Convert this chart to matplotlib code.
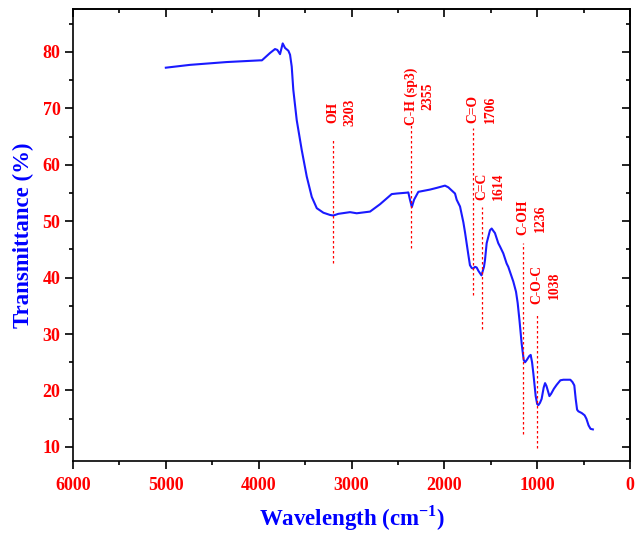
import numpy as np
import matplotlib
matplotlib.use("Agg")
import matplotlib.pyplot as plt
from matplotlib.ticker import MultipleLocator

# FTIR spectrum (wavenumber in cm-1, transmittance in %)
wavenumber = [5000, 4740, 4344, 3985, 3965, 3878, 3824, 3799, 3770, 3741,
              3716, 3680, 3662, 3644, 3627, 3590, 3536, 3482, 3428, 3374,
              3303, 3231, 3196, 3142, 3016, 2944, 2800, 2693, 2567, 2513,
              2405, 2388, 2370, 2350, 2326, 2280, 2154, 2082, 1993, 1957,
              1885, 1867, 1831, 1795, 1777, 1759, 1741, 1724, 1705, 1690,
              1669, 1652, 1633, 1600, 1573, 1562, 1544, 1508, 1490, 1473,
              1455, 1419, 1400, 1365, 1329, 1311, 1257, 1228, 1210, 1191,
              1167, 1145, 1130, 1112, 1085, 1070, 1055, 1041, 1016, 1000,
              987, 970, 952, 930, 915, 900, 868, 850, 820, 790,
              750, 718, 680, 643, 620, 600, 585, 570, 556, 520,
              489, 470, 446, 425, 400]
transmittance = [77.2, 77.7, 78.2, 78.5, 78.5, 79.8, 80.5, 80.35, 79.6, 81.5,
                 80.7, 80.2, 79.5, 77.4, 73.3, 67.9, 62.6, 57.9, 54.3, 52.3,
                 51.5, 51.1, 51.0, 51.3, 51.6, 51.4, 51.7, 53.0, 54.8, 54.9,
                 55.05, 55.1, 53.8, 52.5, 53.8, 55.2, 55.6, 55.9, 56.3, 56.0,
                 54.9, 53.8, 52.6, 49.8, 48.0, 46.0, 44.0, 42.2, 41.7, 41.6,
                 41.9, 41.8, 41.2, 40.4, 41.9, 43.1, 46.1, 48.4, 48.7, 48.3,
                 47.9, 46.1, 45.5, 44.3, 42.5, 41.9, 39.3, 37.5, 35.5, 32.5,
                 28.3, 25.4, 25.0, 25.4, 26.1, 26.3, 25.0, 23.0, 19.0, 17.6,
                 17.4, 17.8, 18.5, 20.5, 21.3, 20.8, 19.0, 19.4, 20.3, 21.0,
                 21.8, 21.9, 21.9, 21.9, 21.5, 20.9, 18.5, 16.6, 16.3, 16.0,
                 15.6, 15.0, 13.8, 13.2, 13.1]

# band assignments
band_names = ["OH", "C-H (sp3)", "C=O", "C=C", "C-OH", "C-O-C"]
band_labels = ["3203", "2355", "1706", "1614", "1236", "1038"]
band_pos = [3203, 2360, 1690, 1596, 1150, 1000]
band_top = [64.4, 67.4, 66.5, 52.5, 46.1, 33.5]
band_bottom = [42.6, 45.2, 36.9, 30.9, 12.2, 9.8]
band_text_y = [69.3, 72.1, 69.8, 56.2, 50.6, 38.7]

plt.rcParams["font.family"] = ["Liberation Serif", "DejaVu Serif"]
plt.rcParams["font.weight"] = "bold"
plt.rcParams["mathtext.fontset"] = "custom"
plt.rcParams["mathtext.rm"] = "Liberation Serif:bold"
plt.rcParams["mathtext.bf"] = "Liberation Serif:bold"

red = "#ff0000"
blue = "#0000ff"

fig = plt.figure(figsize=(6.36, 5.35), dpi=100)
ax = fig.add_axes([73 / 636, 1 - 461 / 535, 557 / 636, 452 / 535])

ax.plot(wavenumber, transmittance, color="#1a1aff", lw=1.5)

for name, lab, x, top, bot, ty in zip(band_names, band_labels, band_pos,
                                      band_top, band_bottom, band_text_y):
    ax.plot([x, x], [bot, top], color=red, lw=0.9, ls=(0, (2, 2)))
    ax.annotate(name, (x, ty), xytext=(0, 0), textcoords="offset points",
                rotation=90, ha="center", va="center", color=red,
                fontsize=9.8, fontweight="bold")
    ax.annotate(lab, (x, ty), xytext=(12.3, 0), textcoords="offset points",
                rotation=90, ha="center", va="center", color=red,
                fontsize=9.8, fontweight="bold")

ax.set_xlim(6000, 0)
ax.set_ylim(7.5, 87.6)
ax.xaxis.set_major_locator(MultipleLocator(1000))
ax.xaxis.set_minor_locator(MultipleLocator(500))
ax.yaxis.set_major_locator(MultipleLocator(10))
ax.yaxis.set_minor_locator(MultipleLocator(5))

for s in ax.spines.values():
    s.set_linewidth(1.2)

ax.tick_params(which="both", direction="out", width=1.2, top=False, right=False,
               colors="black", labelcolor=red, labelsize=13)
ax.tick_params(which="major", length=5.5)
ax.tick_params(which="minor", length=3)
ax.tick_params(axis="x", pad=6)

# mirrored ticks pointing inward on top and right
sec_x = ax.secondary_xaxis("top")
sec_x.xaxis.set_major_locator(MultipleLocator(1000))
sec_x.xaxis.set_minor_locator(MultipleLocator(500))
sec_x.tick_params(which="both", direction="in", width=1.2, labeltop=False)
sec_x.tick_params(which="major", length=5.5)
sec_x.tick_params(which="minor", length=3)
sec_x.spines["top"].set_linewidth(1.2)

sec_y = ax.secondary_yaxis("right")
sec_y.yaxis.set_major_locator(MultipleLocator(10))
sec_y.yaxis.set_minor_locator(MultipleLocator(5))
sec_y.tick_params(which="both", direction="in", width=1.2, labelright=False)
sec_y.tick_params(which="major", length=5.5)
sec_y.tick_params(which="minor", length=3)
sec_y.spines["right"].set_linewidth(1.2)

for lbl in ax.get_xticklabels() + ax.get_yticklabels():
    lbl.set_fontweight("bold")

ax.set_xlabel(r"Wavelength (cm$^{-1}$)", color=blue, fontsize=16.5,
              fontweight="bold", labelpad=7)
ax.set_ylabel("Transmittance (%)", color=blue, fontsize=16.5,
              fontweight="bold", labelpad=6)

fig.savefig("out.png", dpi=100)
